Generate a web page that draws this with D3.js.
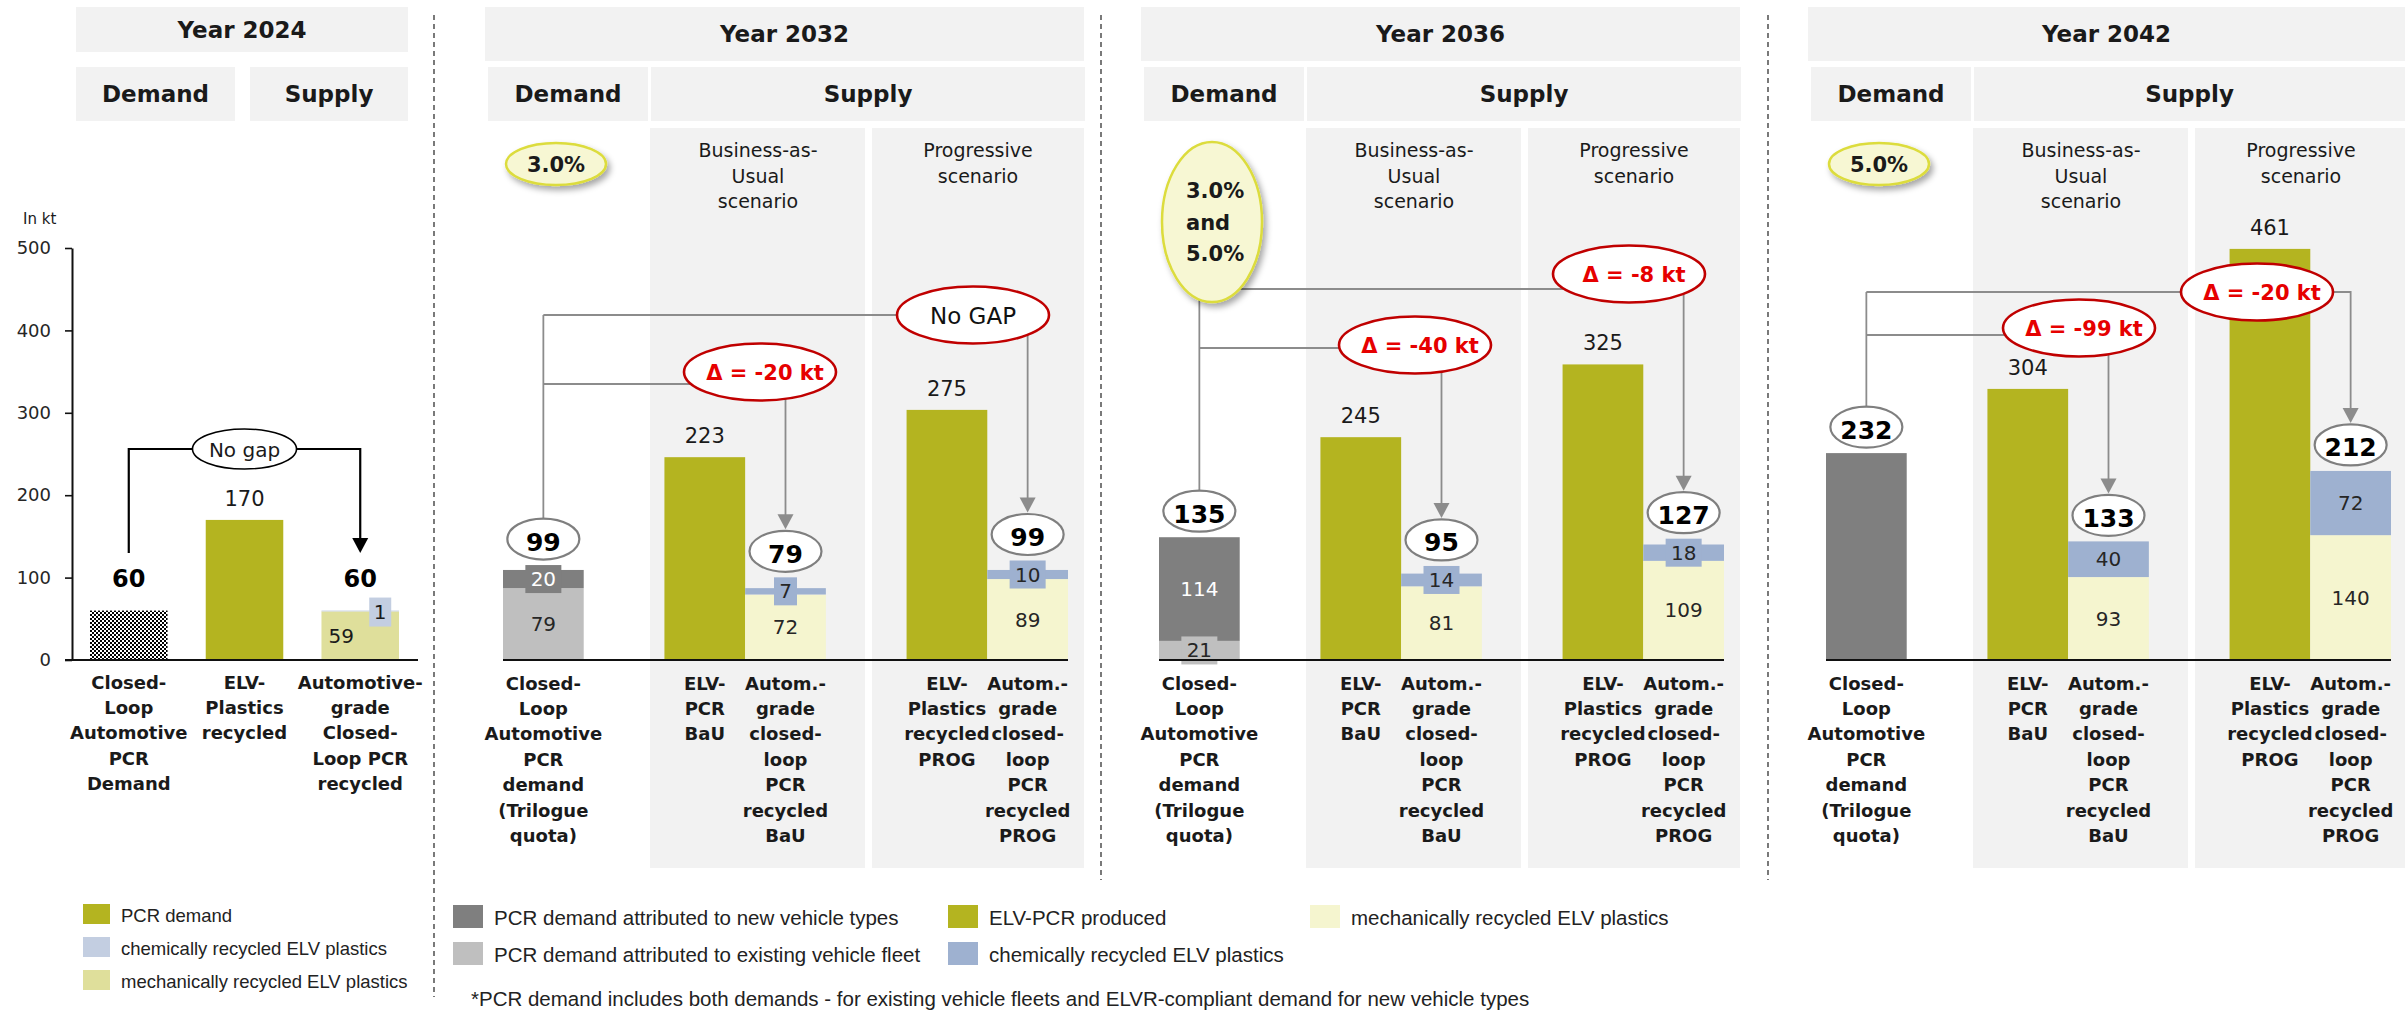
<!DOCTYPE html>
<html>
<head>
<meta charset="utf-8">
<script src="https://cdn.jsdelivr.net/npm/d3@7"></script>
<style>
  body { margin: 0; background: #fff; }
  svg text { font-family: "DejaVu Sans", Verdana, sans-serif; fill: #1a1a1a; }
  svg .legend text { font-family: "Liberation Sans", Arial, sans-serif; }
</style>
</head>
<body>
<svg id="chart" width="2405" height="1010"></svg>
<script>
// ---- chart values ----
var yearLabels = ["Year 2024", "Year 2032", "Year 2036", "Year 2042"];
var yTicks2024 = [0, 100, 200, 300, 400, 500];
var cats2024 = [
    ["Closed-", "Loop", "Automotive", "PCR", "Demand"],
    ["ELV-", "Plastics", "recycled"],
    ["Automotive-", "grade", "Closed-", "Loop PCR", "recycled"]
];
var demand2024 = [60];
var elv2024 = [170];
var recycled2024 = [59, 1];          // mechanically, chemically
var gap2024 = "No gap";

var quotaText = [["3.0%"], ["3.0%", "and", "5.0%"], ["5.0%"]];
var scenBaU = ["Business-as-", "Usual", "scenario"];
var scenProg = ["Progressive", "scenario"];
var panelCats = [
    ["Closed-", "Loop", "Automotive", "PCR", "demand", "(Trilogue", "quota)"],
    ["ELV-", "PCR", "BaU"],
    ["Autom.-", "grade", "closed-", "loop", "PCR", "recycled", "BaU"],
    ["ELV-", "Plastics", "recycled", "PROG"],
    ["Autom.-", "grade", "closed-", "loop", "PCR", "recycled", "PROG"]
];
var demandExisting = [79, 21, null];
var demandNew = [20, 114, null];
var demandTotal = [99, 135, 232];
var elvBaU = [223, 245, 304];
var mechBaU = [72, 81, 93];
var chemBaU = [7, 14, 40];
var elvProg = [275, 325, 461];
var mechProg = [89, 109, 140];
var chemProg = [10, 18, 72];
var gapBaU = ["Δ = -20 kt", "Δ = -40 kt", "Δ = -99 kt"];
var gapProg = ["No GAP", "Δ = -8 kt", "Δ = -20 kt"];

var legendLeft = ["PCR demand", "chemically recycled ELV plastics", "mechanically recycled ELV plastics"];
var legendMain = [
    "PCR demand attributed to new vehicle types",
    "PCR demand attributed to existing vehicle fleet",
    "ELV-PCR produced",
    "chemically recycled ELV plastics",
    "mechanically recycled ELV plastics"
];
var footnote = "*PCR demand includes both demands - for existing vehicle fleets and ELVR-compliant demand for new vehicle types";

// ---- layout ----
var C = {
    olive: "#b4b420", dark: "#7f7f7f", light: "#bfbfbf",
    chem: "#9eb1d0", mech: "#f5f5cf", chem24: "#c3cee1", mech24: "#dfdf9b",
    bg: "#f2f2f2", line: "#8c8c8c", red: "#c00000"
};
var baseY = 660, topY = 248;
var panelX0 = [503, 1159, 1826];
var panelYMax = [453, 453, 462];
var lineProgY = [315, 289, 292];
var lineBaUY = [384, 348, 335];
var gapBaUOff = [[257, -12], [256, -3], [253, -7]];
var gapProgOff = [[470, 0], [470, -15], [431, 0]];

var svg = d3.select("#chart");
var defs = svg.append("defs");

var pat = defs.append("pattern").attr("id", "checker")
    .attr("width", 4).attr("height", 4).attr("patternUnits", "userSpaceOnUse");
pat.append("rect").attr("width", 4).attr("height", 4).attr("fill", "#fff");
pat.append("rect").attr("width", 2).attr("height", 2).attr("fill", "#000");
pat.append("rect").attr("x", 2).attr("y", 2).attr("width", 2).attr("height", 2).attr("fill", "#000");

var filt = defs.append("filter").attr("id", "shadow")
    .attr("x", "-40%").attr("y", "-40%").attr("width", "180%").attr("height", "180%");
filt.append("feDropShadow").attr("dx", 3).attr("dy", 4).attr("stdDeviation", 3)
    .attr("flood-color", "#000").attr("flood-opacity", 0.35);

// helpers
function headBox(g, x1, x2, y1, y2, label) {
    g.append("rect").attr("x", x1).attr("y", y1)
        .attr("width", x2 - x1).attr("height", y2 - y1).attr("fill", C.bg);
    g.append("text").attr("x", (x1 + x2) / 2).attr("y", (y1 + y2) / 2)
        .attr("text-anchor", "middle").attr("dominant-baseline", "central")
        .attr("font-size", 23).attr("font-weight", "bold").text(label);
}

function lines(g, arr, x, y, step, size, weight, anchor) {
    arr.forEach(function (s, k) {
        g.append("text").attr("x", x).attr("y", y + k * step)
            .attr("text-anchor", anchor || "middle").attr("dominant-baseline", "central")
            .attr("font-size", size).attr("font-weight", weight || "normal").text(s);
    });
}

function arrowHead(g, x, tip, color, hw, h) {
    g.append("path")
        .attr("d", "M" + x + "," + tip + "L" + (x - hw) + "," + (tip - h) + "L" + (x + hw) + "," + (tip - h) + "Z")
        .attr("fill", color);
}

// stacked bar; returns top of bar and top of any label box
function stack(g, x, y, slot, segs) {
    var acc = 0, res = { top: y(0), boxTop: Infinity };
    var cx = x(slot) + x.bandwidth() / 2;
    segs.forEach(function (s) {
        s.yb = y(acc); s.yt = y(acc + s.v); acc += s.v;
        g.append("rect").attr("x", x(slot)).attr("y", s.yt)
            .attr("width", x.bandwidth()).attr("height", s.yb - s.yt).attr("fill", s.fill);
    });
    res.top = y(acc);
    segs.forEach(function (s) {
        if (!s.label) return;
        var my = (s.yb + s.yt) / 2;
        if (s.yb - s.yt < 26) {
            var w = String(s.v).length * 13 + 10;
            g.append("rect").attr("x", cx - w / 2).attr("y", my - 14)
                .attr("width", w).attr("height", 28).attr("fill", s.fill);
            res.boxTop = Math.min(res.boxTop, my - 14);
        }
        g.append("text").attr("x", cx).attr("y", my)
            .attr("text-anchor", "middle").attr("dominant-baseline", "central")
            .attr("font-size", 20).style("fill", s.fill === C.dark ? "#fff" : "#262626")
            .text(s.v);
    });
    return res;
}

function totalOval(g, cx, cy, v) {
    g.append("ellipse").attr("cx", cx).attr("cy", cy).attr("rx", 36).attr("ry", 20.5)
        .attr("fill", "#fff").attr("stroke", C.dark).attr("stroke-width", 2.2);
    g.append("text").attr("x", cx).attr("y", cy + 3)
        .attr("text-anchor", "middle").attr("dominant-baseline", "central")
        .attr("font-size", 25).attr("font-weight", "bold").style("fill", "#000").text(v);
}

// ---- dashed separators ----
[[434, 997], [1101, 880], [1768, 880]].forEach(function (d) {
    svg.append("line").attr("x1", d[0]).attr("x2", d[0]).attr("y1", 15).attr("y2", d[1])
        .attr("stroke", "#333").attr("stroke-width", 1.3).attr("stroke-dasharray", "5,4");
});

// ---- Year 2024 ----
var g24 = svg.append("g");
headBox(g24, 76, 408, 7, 52, yearLabels[0]);
headBox(g24, 76, 235, 67, 121, "Demand");
headBox(g24, 250, 408, 67, 121, "Supply");

var y24 = d3.scaleLinear().domain([0, 500]).range([baseY, topY]);
var x24 = d3.scaleBand().domain([0, 1, 2]).range([90, 399]).paddingInner(0.33);

g24.append("text").attr("x", 23).attr("y", 219).attr("dominant-baseline", "central")
    .attr("font-size", 15).text("In kt");

var ax = g24.append("g").attr("transform", "translate(72,0)")
    .call(d3.axisLeft(y24).tickValues(yTicks2024).tickSize(7).tickSizeOuter(0).tickPadding(14));
ax.select(".domain").attr("stroke", "#111").attr("stroke-width", 2);
ax.selectAll(".tick line").attr("stroke", "#111").attr("stroke-width", 1.6);
ax.selectAll(".tick text").attr("font-size", 18).attr("font-family", "DejaVu Sans, Verdana, sans-serif")
    .style("fill", "#262626");

// bracket behind bars
var c0 = x24(0) + x24.bandwidth() / 2, c2 = x24(2) + x24.bandwidth() / 2;
g24.append("path").attr("d", "M" + c0 + ",553V449H" + c2 + "V540")
    .attr("fill", "none").attr("stroke", "#000").attr("stroke-width", 2.2);
arrowHead(g24, c2, 553, "#000", 8, 15);

g24.append("rect").attr("x", x24(0)).attr("y", y24(demand2024[0]))
    .attr("width", x24.bandwidth()).attr("height", baseY - y24(demand2024[0])).attr("fill", "url(#checker)");
g24.append("rect").attr("x", x24(1)).attr("y", y24(elv2024[0]))
    .attr("width", x24.bandwidth()).attr("height", baseY - y24(elv2024[0])).attr("fill", C.olive);
g24.append("rect").attr("x", x24(2)).attr("y", y24(recycled2024[0]))
    .attr("width", x24.bandwidth()).attr("height", baseY - y24(recycled2024[0])).attr("fill", C.mech24);
g24.append("rect").attr("x", x24(2)).attr("y", y24(recycled2024[0] + recycled2024[1]))
    .attr("width", x24.bandwidth()).attr("height", y24(recycled2024[0]) - y24(recycled2024[0] + recycled2024[1]))
    .attr("fill", C.chem24);

g24.append("line").attr("x1", 65).attr("x2", 418).attr("y1", baseY).attr("y2", baseY)
    .attr("stroke", "#111").attr("stroke-width", 2);

// value labels 2024
var tot24 = recycled2024[0] + recycled2024[1];
g24.append("text").attr("x", c0).attr("y", y24(demand2024[0]) - 32)
    .attr("text-anchor", "middle").attr("dominant-baseline", "central")
    .attr("font-size", 24).attr("font-weight", "bold").style("fill", "#000").text(demand2024[0]);
g24.append("text").attr("x", c2).attr("y", y24(tot24) - 32)
    .attr("text-anchor", "middle").attr("dominant-baseline", "central")
    .attr("font-size", 24).attr("font-weight", "bold").style("fill", "#000").text(tot24);
g24.append("text").attr("x", x24(1) + x24.bandwidth() / 2).attr("y", y24(elv2024[0]) - 21)
    .attr("text-anchor", "middle").attr("dominant-baseline", "central")
    .attr("font-size", 21).text(elv2024[0]);
g24.append("text").attr("x", c2 - 19).attr("y", (y24(0) + y24(recycled2024[0])) / 2)
    .attr("text-anchor", "middle").attr("dominant-baseline", "central")
    .attr("font-size", 20).text(recycled2024[0]);
g24.append("rect").attr("x", c2 + 9).attr("y", y24(tot24) - 13)
    .attr("width", 22).attr("height", 29).attr("fill", C.chem24);
g24.append("text").attr("x", c2 + 20).attr("y", y24(tot24) + 1)
    .attr("text-anchor", "middle").attr("dominant-baseline", "central")
    .attr("font-size", 20).text(recycled2024[1]);

g24.append("ellipse").attr("cx", (c0 + c2) / 2).attr("cy", 449).attr("rx", 52).attr("ry", 20)
    .attr("fill", "#fff").attr("stroke", "#000").attr("stroke-width", 1.6);
g24.append("text").attr("x", (c0 + c2) / 2).attr("y", 450)
    .attr("text-anchor", "middle").attr("dominant-baseline", "central")
    .attr("font-size", 20).text(gap2024);

cats2024.forEach(function (c, k) {
    lines(g24, c, x24(k) + x24.bandwidth() / 2, 682, 25.4, 18, "bold");
});

// ---- Years 2032 / 2036 / 2042 ----
[0, 1, 2].forEach(function (i) {
    var x0 = panelX0[i];
    var g = svg.append("g");
    var y = d3.scaleLinear().domain([0, panelYMax[i]]).range([baseY, topY]);
    var x = d3.scaleBand().domain(d3.range(7)).range([x0, x0 + 565]);
    var mid = function (s) { return x(s) + x.bandwidth() / 2; };

    headBox(g, x0 - 18, Math.min(x0 + 581, 2405), 7, 61, yearLabels[i + 1]);
    headBox(g, x0 - 15, x0 + 145, 67, 121, "Demand");
    headBox(g, x0 + 148, Math.min(x0 + 582, 2405), 67, 121, "Supply");
    g.append("rect").attr("x", x0 + 147).attr("y", 128).attr("width", 215).attr("height", 740).attr("fill", C.bg);
    g.append("rect").attr("x", x0 + 369).attr("y", 128).attr("width", Math.min(212, 2405 - x0 - 369))
        .attr("height", 740).attr("fill", C.bg);
    lines(g, scenBaU, x0 + 255, 150, 25.5, 19);
    lines(g, scenProg, x0 + 475, 150, 25.5, 19);

    var dSegs = demandExisting[i] === null
        ? [{ v: demandTotal[i], fill: C.dark, label: false }]
        : [{ v: demandExisting[i], fill: C.light, label: true }, { v: demandNew[i], fill: C.dark, label: true }];

    var dx = mid(0), bx = mid(3), px = mid(6);
    var qCy = i === 1 ? 222 : 164;
    // connector lines go below bars
    var lg = g.append("g").attr("fill", "none").attr("stroke", C.line).attr("stroke-width", 1.8);

    var gD = g.append("g");
    var rD = stack(gD, x, y, 0, dSegs);
    stack(gD, x, y, 2, [{ v: elvBaU[i], fill: C.olive }]);
    var rB = stack(gD, x, y, 3, [{ v: mechBaU[i], fill: C.mech, label: true }, { v: chemBaU[i], fill: C.chem, label: true }]);
    stack(gD, x, y, 5, [{ v: elvProg[i], fill: C.olive }]);
    var rP = stack(gD, x, y, 6, [{ v: mechProg[i], fill: C.mech, label: true }, { v: chemProg[i], fill: C.chem, label: true }]);

    g.append("line").attr("x1", x0).attr("x2", x0 + 565).attr("y1", baseY).attr("y2", baseY)
        .attr("stroke", "#111").attr("stroke-width", 2);

    var oD = Math.min(rD.top, rD.boxTop) - 26;
    var oB = Math.min(rB.top, rB.boxTop) - 26;
    var oP = Math.min(rP.top, rP.boxTop) - 26;

    var topLine = i === 1 ? qCy : lineProgY[i];
    lg.append("path").attr("d", "M" + dx + "," + (oD - 20) + "V" + topLine);
    lg.append("path").attr("d", "M" + dx + "," + lineProgY[i] + "H" + px + "V" + (oP - 35));
    lg.append("path").attr("d", "M" + dx + "," + lineBaUY[i] + "H" + bx + "V" + (oB - 35));
    arrowHead(g, px, oP - 22, C.line, 8, 15);
    arrowHead(g, bx, oB - 22, C.line, 8, 15);

    // ELV value labels
    [[2, elvBaU[i]], [5, elvProg[i]]].forEach(function (d) {
        g.append("text").attr("x", mid(d[0])).attr("y", y(d[1]) - 21)
            .attr("text-anchor", "middle").attr("dominant-baseline", "central")
            .attr("font-size", 21).text(d[1]);
    });

    totalOval(g, dx, oD, demandTotal[i]);
    totalOval(g, bx, oB, mechBaU[i] + chemBaU[i]);
    totalOval(g, px, oP, mechProg[i] + chemProg[i]);

    // quota ellipse
    var qx = x0 + 53;
    g.append("ellipse").attr("cx", qx).attr("cy", qCy).attr("rx", 50).attr("ry", i === 1 ? 80 : 21)
        .attr("fill", "#f7f7d3").attr("stroke", "#dcdc3c").attr("stroke-width", 2.5)
        .attr("filter", "url(#shadow)");
    if (quotaText[i].length > 1) {
        lines(g, quotaText[i], x0 + 27, qCy - 31, 31.5, 21, "bold", "start");
    } else {
        lines(g, quotaText[i], qx, qCy + 1, 0, 21, "bold");
    }

    // gap ellipses
    [[gapBaUOff[i], lineBaUY[i], gapBaU[i]], [gapProgOff[i], lineProgY[i], gapProg[i]]].forEach(function (d) {
        var ex = x0 + d[0][0], ey = d[1] + d[0][1];
        g.append("ellipse").attr("cx", ex).attr("cy", ey).attr("rx", 76).attr("ry", 28.5)
            .attr("fill", "#fff").attr("stroke", C.red).attr("stroke-width", 2.6);
        var isGap = d[2].indexOf("Δ") === 0;
        g.append("text").attr("x", ex + (isGap ? 5 : 0)).attr("y", ey + 1)
            .attr("text-anchor", "middle").attr("dominant-baseline", "central")
            .attr("font-size", isGap ? 21 : 23).attr("font-weight", isGap ? "bold" : "normal")
            .style("fill", isGap ? "#e60000" : "#111").text(d[2]);
    });

    // category labels
    [0, 2, 3, 5, 6].forEach(function (s, k) {
        lines(g, panelCats[k], mid(s), 683, 25.4, 18, "bold");
    });
});

// ---- legends ----
var lgL = svg.append("g").attr("class", "legend");
[C.olive, C.chem24, C.mech24].forEach(function (c, k) {
    lgL.append("rect").attr("x", 83).attr("y", 904 + k * 33).attr("width", 27).attr("height", 20).attr("fill", c);
    lgL.append("text").attr("x", 121).attr("y", 915 + k * 33).attr("dominant-baseline", "central")
        .attr("font-size", 18.5).style("fill", "#222").text(legendLeft[k]);
});

var lgM = svg.append("g").attr("class", "legend");
var mainCols = [[453, 0], [453, 1], [948, 0], [948, 1], [1310, 0]];
var mainFills = [C.dark, C.light, C.olive, C.chem, C.mech];
legendMain.forEach(function (t, k) {
    var cx = mainCols[k][0], row = mainCols[k][1];
    lgM.append("rect").attr("x", cx).attr("y", 905 + row * 37).attr("width", 30).attr("height", 23).attr("fill", mainFills[k]);
    lgM.append("text").attr("x", cx + 41).attr("y", 917 + row * 37).attr("dominant-baseline", "central")
        .attr("font-size", 20.5).style("fill", "#222").text(t);
});
lgM.append("text").attr("x", 471).attr("y", 998).attr("dominant-baseline", "central")
    .attr("font-size", 20.5).style("fill", "#222").text(footnote);
</script>
</body>
</html>
